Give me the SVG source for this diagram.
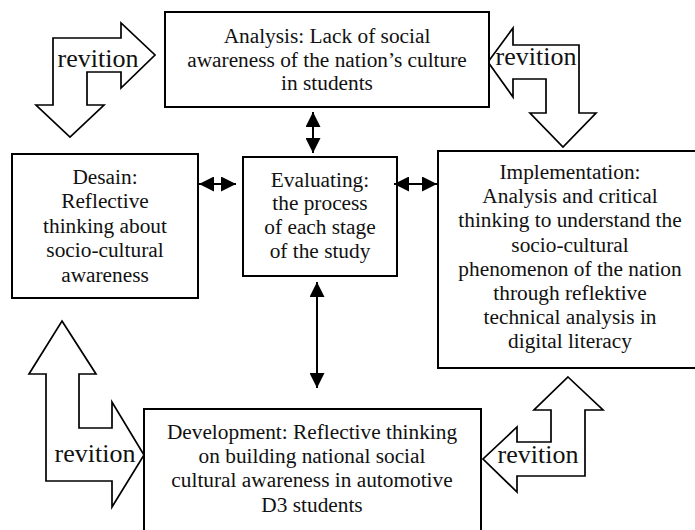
<svg xmlns="http://www.w3.org/2000/svg" width="695" height="530" viewBox="0 0 695 530">
<style>
.box{fill:#fff;stroke:#000;stroke-width:2}
.bent{fill:#fff;stroke:#000;stroke-width:1.7;stroke-linejoin:miter}
.t{font-family:"Liberation Serif","Times New Roman",serif;font-size:21.33px;fill:#111;text-anchor:middle}
.rv{font-family:"Liberation Serif","Times New Roman",serif;font-size:26px;fill:#111;text-anchor:middle}
.link{stroke:#000;stroke-width:2;fill:none;marker-start:url(#ah);marker-end:url(#ah)}
</style>
<defs>
<marker id="ah" markerUnits="userSpaceOnUse" markerWidth="15" markerHeight="15" refX="14" refY="7" orient="auto-start-reverse" viewBox="0 0 14 14">
<path d="M0,0 L14,7 L0,14 z" fill="#000"/>
</marker>
</defs>
<rect width="695" height="530" fill="#fff"/>
<g id="revision-arrows">
<g id="rev-tl"><polygon class="bent" points="53,38 121,38 121,23 155,55 121,88 121,72 87,72 87,105 104,105 70,137 36,105 53,105"/><text class="rv" x="98" y="67">revition</text></g>
<g id="rev-tr"><polygon class="bent" points="513,45 579,45 579,113 596,113 563,147 530,113 546,113 546,79 513,79 513,97 488,62 513,28"/><text class="rv" x="536" y="65">revition</text></g>
<g id="rev-bl"><polygon class="bent" points="62,321 96,374 79,374 79,428 112,428 112,402 144,455 112,507 112,481 46,481 46,374 29,374"/><text class="rv" x="95" y="462">revition</text></g>
<g id="rev-br"><polygon class="bent" points="568,377 603,410 585,410 585,476 517,476 517,492 483,459 517,427 517,442 551,442 551,410 534,410"/><text class="rv" x="538" y="463">revition</text></g>
</g>
<g id="analysis"><rect class="box" x="165" y="12" width="324" height="95"/>
<text class="t" x="327" y="43">Analysis: Lack of social</text>
<text class="t" x="327" y="67">awareness of the nation’s culture</text>
<text class="t" x="327" y="90">in students</text></g>
<g id="desain"><rect class="box" x="12" y="154" width="186" height="144"/>
<text class="t" x="105" y="184">Desain:</text>
<text class="t" x="105" y="208">Reflective</text>
<text class="t" x="105" y="233">thinking about</text>
<text class="t" x="105" y="257">socio-cultural</text>
<text class="t" x="105" y="282">awareness</text></g>
<g id="evaluating"><rect class="box" x="243" y="157" width="154" height="119"/>
<text class="t" x="320" y="187">Evaluating:</text>
<text class="t" x="320" y="210">the process</text>
<text class="t" x="320" y="234">of each stage</text>
<text class="t" x="320" y="258">of the study</text></g>
<g id="implementation"><rect class="box" x="438" y="151" width="265" height="217"/>
<text class="t" x="570" y="179">Implementation:</text>
<text class="t" x="570" y="203">Analysis and critical</text>
<text class="t" x="570" y="227">thinking to understand the</text>
<text class="t" x="570" y="252">socio-cultural</text>
<text class="t" x="570" y="276">phenomenon of the nation</text>
<text class="t" x="570" y="300">through reflektive</text>
<text class="t" x="570" y="324">technical analysis in</text>
<text class="t" x="570" y="348">digital literacy</text></g>
<g id="development"><rect class="box" x="144" y="409" width="337" height="130"/>
<text class="t" x="312" y="439">Development: Reflective thinking</text>
<text class="t" x="312" y="463">on building national social</text>
<text class="t" x="312" y="487">cultural awareness in automotive</text>
<text class="t" x="312" y="512">D3 students</text></g>
<g id="connectors">
<line class="link" x1="199" y1="184" x2="236" y2="184"/>
<line class="link" x1="394" y1="184" x2="437" y2="184"/>
<line class="link" x1="313" y1="112" x2="313" y2="153"/>
<line class="link" x1="317" y1="282" x2="317" y2="388"/>
</g>
</svg>
